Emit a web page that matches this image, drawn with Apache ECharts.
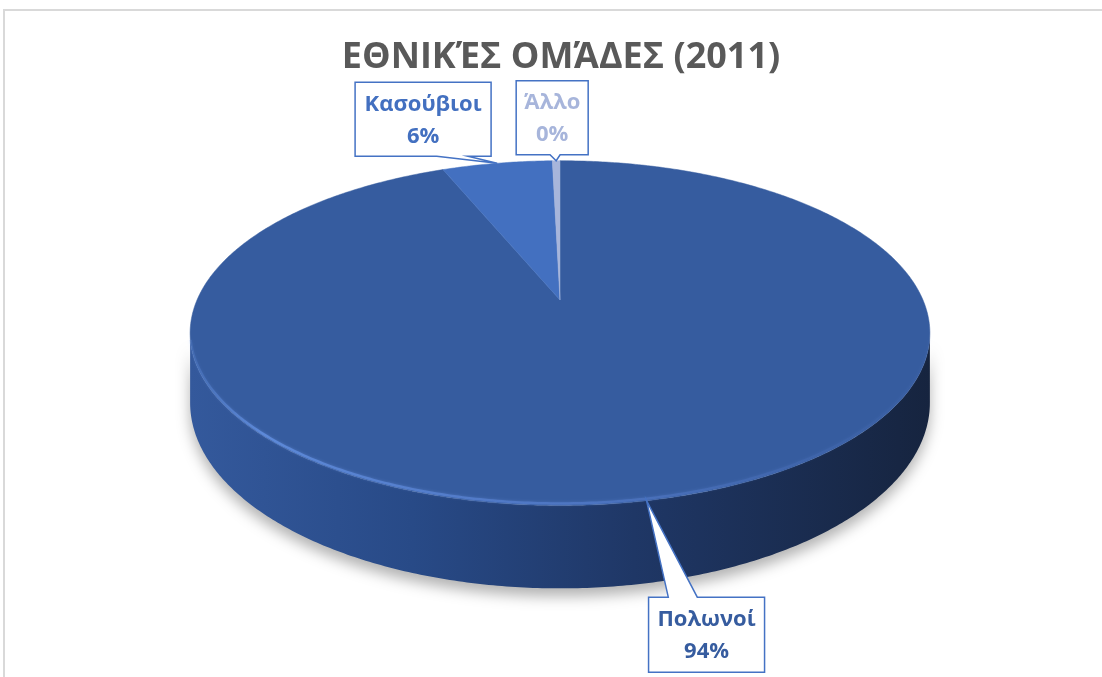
<!DOCTYPE html>
<html>
<head>
<meta charset="utf-8">
<script src="https://cdn.jsdelivr.net/npm/echarts@6/dist/echarts.min.js"></script>
<style>
  html, body { margin: 0; padding: 0; background: #fff; }
  #chart { width: 1102px; height: 677px; }
</style>
</head>
<body>
<div id="chart"></div>
<script>
// data
const names = ['Πολωνοί', 'Κασούβιοι', 'Άλλο'];
const values = [93.8, 5.8, 0.4];
const colors = ['#365c9f', '#4370c0', '#a7b5db'];
const titleText = 'ΕΘΝΙΚΈΣ ΟΜΆΔΕΣ (2011)';

// layout of the tilted pie (perspective) and the callouts
const pie = { cx: 560, cy: 300, a: 363, b: 166, e: 0.192, h: 67 };
const callouts = [
  { dx: 60, dy: 134, w: 116, h: 75, tail: [0.17, 0.42] },
  { dx: -74, dy: -44, w: 136, h: 74, tail: [0.60, 0.83] },
  { dx: -4, dy: -43, w: 72, h: 74, tail: [0.47, 0.61] }
];
const font = 'bold 22px "Open Sans"';

const total = values.reduce((s, v) => s + v, 0);
let acc = 0;
const slices = values.map((v, i) => {
  const start = acc / total * Math.PI * 2;
  acc += v;
  const end = acc / total * Math.PI * 2;
  return [v, start, end, i];
});

// angle measured clockwise from 12 o'clock, z: 0 top face, 1 bottom face
function proj(t, z) {
  const u = Math.sin(t), v = Math.cos(t);
  const d = 1 + pie.e * v;
  return [pie.cx + pie.a * u / d, pie.cy + (-pie.b * v + pie.h * z) / d];
}
function arc(a, b, z) {
  const pts = [];
  const n = Math.max(2, Math.ceil((b - a) / 0.01));
  for (let k = 0; k <= n; k++) pts.push(proj(a + (b - a) * k / n, z));
  return pts;
}
const frontA = Math.acos(-pie.e), frontB = Math.PI * 2 - frontA;

function sideItem(params, api) {
  const a = Math.max(api.value(1), frontA), b = Math.min(api.value(2), frontB);
  if (b <= a) return null;
  const pts = arc(a, b, 0).concat(arc(a, b, 1).reverse());
  return {
    type: 'polygon',
    shape: { points: pts },
    style: {
      fill: new echarts.graphic.LinearGradient(0, 0, 1, 0, [
        { offset: 0, color: '#34599c' },
        { offset: 0.3, color: '#284a87' },
        { offset: 0.6, color: '#1f3766' },
        { offset: 1, color: '#16243f' }
      ]),
      shadowBlur: 14,
      shadowColor: 'rgba(0,0,0,0.3)',
      shadowOffsetY: 8
    }
  };
}

function topItem(params, api) {
  const i = api.value(3);
  const pts = [[pie.cx, pie.cy]].concat(arc(api.value(1), api.value(2), 0));
  return {
    type: 'polygon',
    shape: { points: pts },
    style: { fill: colors[i], stroke: colors[i], lineWidth: 0.5 }
  };
}

function rimItem(params, api) {
  const a = Math.max(api.value(1), frontA + 0.05), b = Math.min(api.value(2), frontB - 0.05);
  if (b <= a) return null;
  const pts = arc(a, b, 0).map(p => [p[0], p[1] - 2]);
  return {
    type: 'polyline',
    shape: { points: pts },
    style: {
      fill: null,
      lineWidth: 2.5,
      stroke: new echarts.graphic.LinearGradient(0, 0, 1, 0, [
        { offset: 0, color: 'rgba(95,140,220,0.2)' },
        { offset: 0.1, color: 'rgba(95,140,220,0.9)' },
        { offset: 0.55, color: 'rgba(85,125,205,0.6)' },
        { offset: 1, color: 'rgba(70,105,180,0.05)' }
      ]),
      shadowBlur: 3,
      shadowColor: 'rgba(110,150,230,0.5)'
    }
  };
}

function labelItem(params, api) {
  const i = api.value(3);
  const c = callouts[i];
  const tip = proj((api.value(1) + api.value(2)) / 2, 0);
  const bx = tip[0] + c.dx - c.w / 2, by = tip[1] + c.dy - c.h / 2;
  const L = bx, R = bx + c.w, T = by, B = by + c.h;
  const t1 = L + c.tail[0] * c.w, t2 = L + c.tail[1] * c.w;
  let pts;
  if (tip[1] > B) {
    pts = [[L, T], [R, T], [R, B], [t2, B], tip, [t1, B], [L, B]];
  } else {
    pts = [[L, T], [t1, T], tip, [t2, T], [R, T], [R, B], [L, B]];
  }
  const pct = Math.round(api.value(0) / total * 100) + '%';
  return {
    type: 'group',
    children: [
      {
        type: 'polygon',
        shape: { points: pts },
        style: { fill: '#fff', stroke: '#4472c4', lineWidth: 1.5 }
      },
      {
        type: 'text',
        style: {
          x: bx + c.w / 2, y: by + c.h / 2 + 1,
          text: names[i] + '\n' + pct,
          font: font, lineHeight: 32,
          align: 'center', verticalAlign: 'middle',
          fill: colors[i]
        }
      }
    ]
  };
}

const chart = echarts.init(document.getElementById('chart'));
chart.setOption({
  animation: false,
  backgroundColor: '#fff',
  graphic: [
    {
      type: 'rect', z: 0,
      shape: { x: 4, y: 10, width: 1300, height: 900 },
      style: { fill: null, stroke: '#d9d9d9', lineWidth: 2 }
    },
    {
      type: 'text', z: 10,
      style: {
        x: 561, y: 58, text: titleText,
        font: 'bold 36px "Open Sans"', fill: '#595959',
        align: 'center', verticalAlign: 'middle'
      }
    }
  ],
  series: [
    { type: 'custom', coordinateSystem: 'none', z: 1, data: slices, renderItem: sideItem, silent: true },
    { type: 'custom', coordinateSystem: 'none', z: 2, data: slices, renderItem: topItem, silent: true },
    { type: 'custom', coordinateSystem: 'none', z: 3, data: slices, renderItem: rimItem, silent: true },
    { type: 'custom', coordinateSystem: 'none', z: 4, data: slices, renderItem: labelItem, silent: true }
  ]
});
</script>
</body>
</html>
